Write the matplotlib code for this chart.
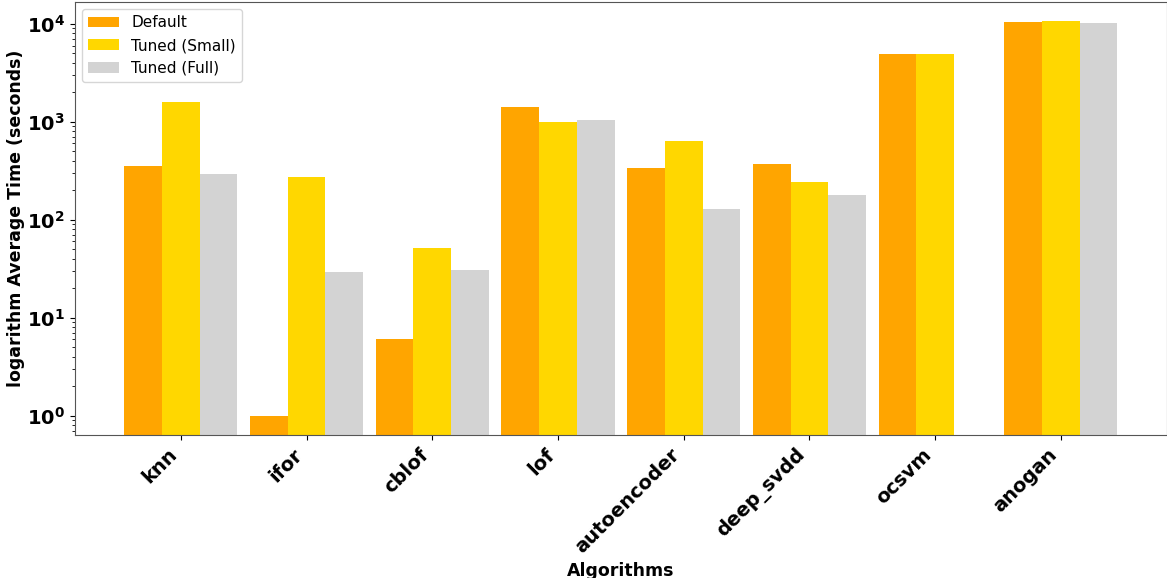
import matplotlib.pyplot as plt
import numpy as np

algorithms = ["knn", "ifor", "cblof", "lof", "autoencoder", "deep_svdd", "ocsvm", "anogan"]
default_time = [350, 1.0, 6.0, 1400, 340, 370, 4900, 10500]
tuned_small = [1600, 270, 52, 1000, 630, 245, 4900, 10700]
tuned_full = [290, 29.5, 30.5, 1050, 128, 178, np.nan, 10300]

series = [
    ("Default", default_time, "orange"),
    ("Tuned (Small)", tuned_small, "gold"),
    ("Tuned (Full)", tuned_full, "lightgray"),
]

fig, ax = plt.subplots(figsize=(11.67, 5.78), dpi=100)
x = np.arange(len(algorithms))
width = 0.3

for i, (label, values, color) in enumerate(series):
    ax.bar(x + (i - 1) * width, values, width, label=label, color=color)

ax.set_yscale("log")
ax.set_ylim(0.63, 16800)
ax.set_xticks(x)
ax.set_xticklabels(algorithms, rotation=45, ha="right",
                   fontsize=14, fontweight="bold")
ax.tick_params(axis="y", labelsize=14)
for lbl in ax.get_yticklabels():
    lbl.set_fontweight("bold")
ax.set_xlabel("Algorithms", fontsize=12.5, fontweight="bold")
ax.set_ylabel("logarithm Average Time (seconds)", fontsize=12.5,
              fontweight="bold", labelpad=1)
for spine in ax.spines.values():
    spine.set_color("#555555")
ax.legend(loc="upper left", fontsize=11)

fig.subplots_adjust(left=0.064, right=1.0, top=0.997, bottom=0.247)
fig.savefig("out.png")
